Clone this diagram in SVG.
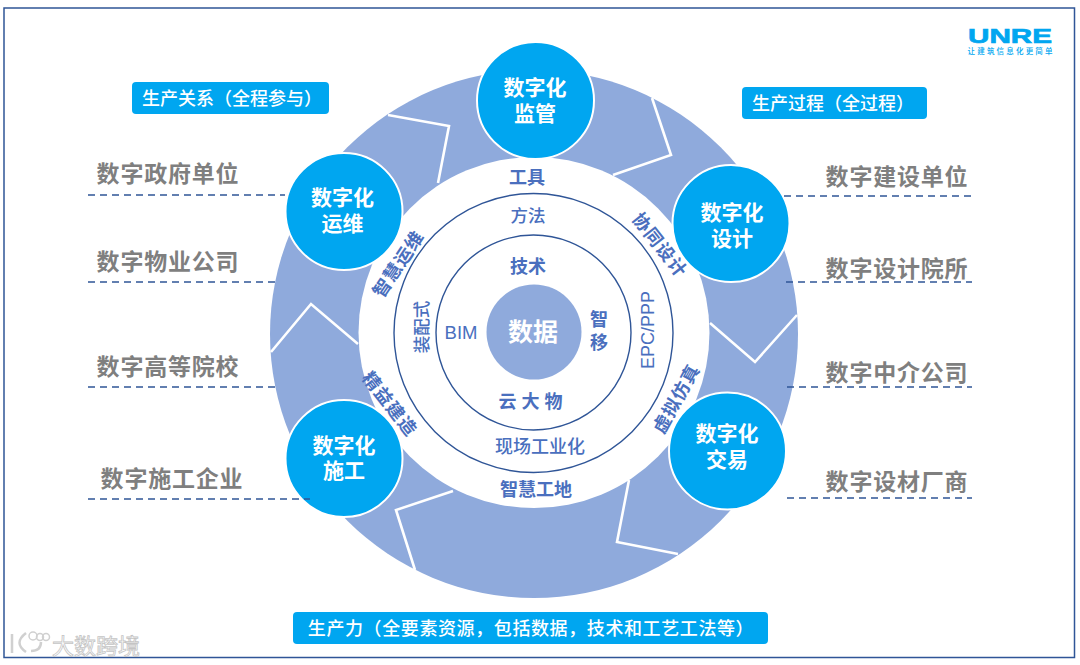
<svg xmlns="http://www.w3.org/2000/svg" width="1080" height="665" viewBox="0 0 1080 665">
<style>
text{font-family:"Noto Sans CJK SC","Noto Sans",sans-serif;text-anchor:middle;dominant-baseline:central}
.node{fill:#00a6f0;stroke:#fff;stroke-width:2}
.nt{fill:#fff;font-size:21px;font-weight:700}
.side{fill:#7f7f7f;font-size:23px;font-weight:700;letter-spacing:.8px}
.dash{stroke:#2f5597;stroke-width:1.3;stroke-dasharray:7 5;fill:none}
.pill{fill:#00a6f0}
.pt{fill:#fff;font-size:18px;font-weight:500}
.chev{fill:none;stroke:#fff;stroke-width:2.6}
.blue{fill:#4a6fbe;font-size:18px;font-weight:700}
.reg{fill:#4a6fbe;font-size:17.500px;font-weight:500}
.ring{fill:none;stroke:#2f5597;stroke-width:1.4}
.wm{fill:#fff;stroke:#c4c4c4;stroke-width:.8;font-size:22px;font-weight:400}
</style>
<rect width="1080" height="665" fill="#fff"/>
<rect x="4" y="8" width="1070.500" height="649.500" fill="#fff" stroke="#2f5597" stroke-width="1.500"/>
<g id="logo">
<text x="1010" y="35.500" style="font-family:'Liberation Sans',sans-serif;font-size:21px;font-weight:700;fill:#00a6f0;stroke:#00a6f0;stroke-width:.7" textLength="84" lengthAdjust="spacingAndGlyphs">UNRE</text>
<text x="1010" y="50" style="font-size:7.500px;font-weight:500;fill:#00a6f0" textLength="85">让建筑信息化更简单</text>
</g>
<g id="disc">
<circle cx="534" cy="334" r="264" fill="#8faadc"/>
<circle cx="534" cy="332.500" r="175.500" fill="#fff"/>
<path class="chev" d="M388 115L449 126L438 183"/>
<path class="chev" d="M652 98L671 155L613 175"/>
<path class="chev" d="M710 323L755 362L797 315"/>
<path class="chev" d="M629 480L617 542L678 554"/>
<path class="chev" d="M453 491L396 510L415 570"/>
<path class="chev" d="M271 352L311 304L358 344"/>
<circle class="ring" cx="533.500" cy="333" r="139.500"/>
<circle class="ring" cx="533.500" cy="332.500" r="97.500"/>
</g>
<g id="center"><circle cx="534" cy="332" r="47.500" fill="#8faadc"/><text x="533" y="330" style="fill:#fff;font-size:25px;font-weight:700">数据</text></g>
<g id="node-supervise"><circle class="node" cx="535.500" cy="100.500" r="58.500"/><text class="nt" x="535" y="86">数字化</text><text class="nt" x="535" y="111.500">监管</text></g>
<g id="node-operate"><circle class="node" cx="344" cy="211.500" r="58.500"/><text class="nt" x="342.500" y="195.500">数字化</text><text class="nt" x="342.500" y="221.500">运维</text></g>
<g id="node-design"><circle class="node" cx="731" cy="223.500" r="58.500"/><text class="nt" x="732" y="211">数字化</text><text class="nt" x="732" y="236.500">设计</text></g>
<g id="node-trade"><circle class="node" cx="727.500" cy="451" r="58.500"/><text class="nt" x="727" y="432">数字化</text><text class="nt" x="727" y="458">交易</text></g>
<g id="node-build"><circle class="node" cx="344" cy="458.500" r="58.500"/><text class="nt" x="344" y="444">数字化</text><text class="nt" x="344" y="469">施工</text></g>
<g id="connectors">
<path class="dash" d="M88 195H285M88 282H276M88 387H276M88 499H310M784 196H972M786 282H972M787 387H972M787 498H972"/>
</g>
<g id="inner-labels">
<text class="blue" x="527" y="176">工具</text>
<text class="reg" x="528" y="214">方法</text>
<text class="blue" x="528" y="265">技术</text>
<text class="reg" x="461" y="332" style="font-family:'Liberation Sans',sans-serif;font-size:18.500px;font-weight:400">BIM</text>
<text class="blue" x="599" y="318">智</text>
<text class="blue" x="599" y="341">移</text>
<text class="blue" x="533" y="400" style="letter-spacing:5px">云大物</text>
<text class="reg" x="540" y="445" style="font-size:18px">现场工业化</text>
<text class="blue" x="536" y="488">智慧工地</text>
<text class="reg" transform="translate(420 327) rotate(-90)">装配式</text>
<text class="reg" transform="translate(648 330) rotate(-90)" style="font-family:'Liberation Sans',sans-serif;font-size:18px;font-weight:400">EPC/PPP</text>
<text class="blue" transform="translate(397 263) rotate(-56)" style="letter-spacing:1px">智慧运维</text>
<text class="blue" transform="translate(661 244) rotate(52)" style="letter-spacing:1px">协同设计</text>
<text class="blue" transform="translate(675 398) rotate(-61)" style="letter-spacing:1px">虚拟仿真</text>
<text class="blue" transform="translate(391 403) rotate(52)" style="letter-spacing:1px">精益建造</text>
</g>
<g id="side-labels">
<text class="side" x="168" y="172">数字政府单位</text>
<text class="side" x="168" y="260">数字物业公司</text>
<text class="side" x="168" y="365">数字高等院校</text>
<text class="side" x="172" y="477">数字施工企业</text>
<text class="side" x="897" y="175">数字建设单位</text>
<text class="side" x="897" y="267">数字设计院所</text>
<text class="side" x="897" y="371">数字中介公司</text>
<text class="side" x="897" y="480">数字设材厂商</text>
</g>
<g id="pill-relations"><rect class="pill" x="132" y="82" width="197" height="32" rx="4"/><text class="pt" x="232" y="97">生产关系（全程参与）</text></g>
<g id="pill-process"><rect class="pill" x="742" y="87" width="185" height="32" rx="4"/><text class="pt" x="833" y="102">生产过程（全过程）</text></g>
<g id="pill-force"><rect class="pill" x="293" y="612" width="475" height="32" rx="4"/><text class="pt" x="531" y="627" style="letter-spacing:.6px">生产力（全要素资源，包括数据，技术和工艺工法等）</text></g>
<g id="watermark">
<path d="M12 634V653M26 633Q13 643 26 652M31 651Q41 651 41 642" fill="none" stroke="#d0d0d0" stroke-width="2.500"/>
<circle cx="33" cy="636" r="4" fill="none" stroke="#d0d0d0" stroke-width="1.500"/><circle cx="40" cy="637" r="3.500" fill="none" stroke="#d0d0d0" stroke-width="1.500"/><circle cx="46" cy="637" r="3.500" fill="none" stroke="#d0d0d0" stroke-width="1.500"/>
<text class="wm" x="96" y="644">大数跨境</text>
</g>
</svg>
